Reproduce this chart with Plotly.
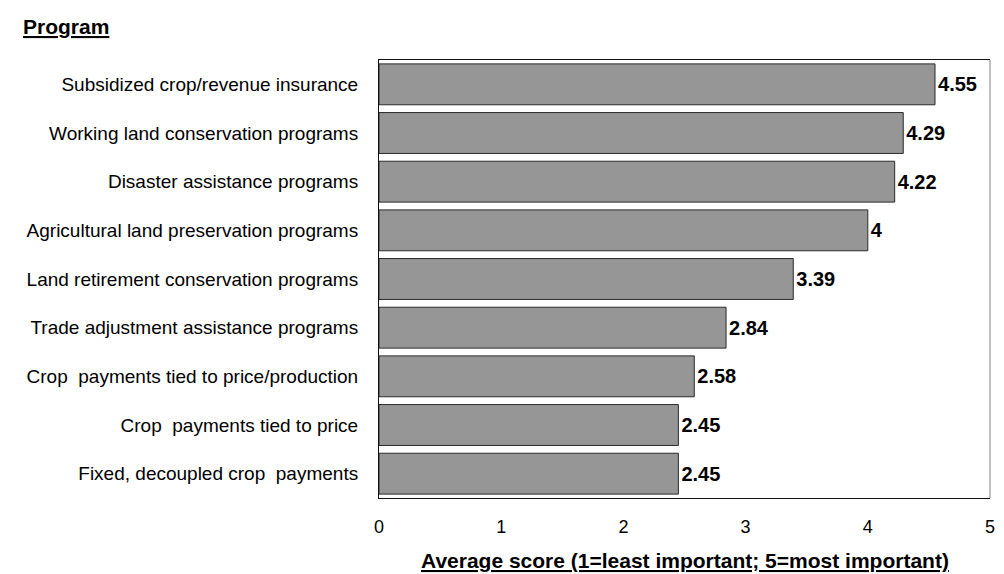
import plotly.graph_objects as go

programs = [
    "Subsidized crop/revenue insurance",
    "Working land conservation programs",
    "Disaster assistance programs",
    "Agricultural land preservation programs",
    "Land retirement conservation programs",
    "Trade adjustment assistance programs",
    "Crop  payments tied to price/production",
    "Crop  payments tied to price",
    "Fixed, decoupled crop  payments",
]
scores = [4.55, 4.29, 4.22, 4, 3.39, 2.84, 2.58, 2.45, 2.45]
score_labels = ["4.55", "4.29", "4.22", "4", "3.39", "2.84", "2.58", "2.45", "2.45"]
x_ticks = [0, 1, 2, 3, 4, 5]

FONT = "Liberation Sans, Arial, sans-serif"
W, H = 1004, 574
L, R, T, B = 371, 22, 52, 84
PW, PH = W - L - R, H - T - B

fig = go.Figure()
fig.add_trace(go.Bar(
    x=scores,
    y=[p.replace("  ", "\u00a0 ") for p in programs],
    orientation="h",
    marker=dict(color="#969696", line=dict(color="#2a2a2a", width=1)),
    text=["<b>%s</b>" % s for s in score_labels],
    textposition="outside",
    textfont=dict(family=FONT, size=20, color="#000000"),
    cliponaxis=False,
    width=0.84,
    hoverinfo="skip",
))

fig.update_layout(
    width=W, height=H,
    margin=dict(l=L, r=R, t=T, b=B),
    paper_bgcolor="white", plot_bgcolor="white",
    showlegend=False,
    font=dict(family=FONT, size=18, color="#000000"),
    xaxis=dict(
        range=[0, 5], tickvals=x_ticks, ticktext=[str(t) for t in x_ticks],
        showgrid=False, zeroline=False,
        showline=True, linecolor="#111111", linewidth=1, mirror=True,
        ticks="", ticklabelstandoff=12,
        tickfont=dict(family=FONT, size=18, color="#000000"),
    ),
    yaxis=dict(
        autorange="reversed",
        showgrid=False, zeroline=False,
        showline=True, linecolor="#111111", linewidth=1, mirror=False,
        ticks="", ticklabelstandoff=16,
        tickfont=dict(family=FONT, size=19, color="#000000"),
    ),
    shapes=[dict(type="line", xref="paper", yref="paper", x0=1, x1=1, y0=0, y1=1,
                 line=dict(color="#808080", width=1))],
    annotations=[
        dict(text="<u><b>Program</b></u>", xref="paper", yref="paper",
             x=(13 - L) / PW, y=1 + (T - 19) / PH, xanchor="left", yanchor="middle",
             showarrow=False, font=dict(family=FONT, size=21, color="#000000")),
        dict(text="<u><b>Average score (1=least important; 5=most important)</b></u>",
             xref="paper", yref="paper", x=0.5, y=-(552 - (T + PH)) / PH,
             xanchor="center", yanchor="middle", showarrow=False,
             font=dict(family=FONT, size=21, color="#000000")),
    ],
)

fig.write_html("out.html")
